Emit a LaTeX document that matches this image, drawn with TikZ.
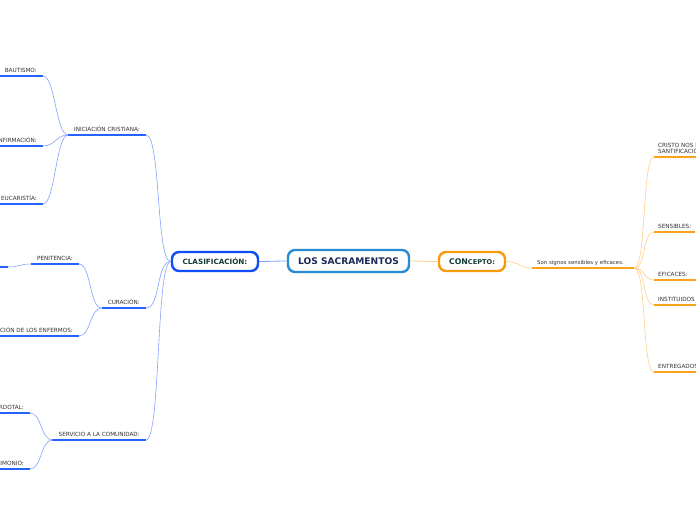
\documentclass[tikz,border=0pt]{standalone}
\usepackage{fontspec}
\setmainfont{DejaVu Sans}
\definecolor{bcurve}{HTML}{85A2FF}
\definecolor{bline}{HTML}{2563FF}
\definecolor{ocurve}{HTML}{FFCF8A}
\definecolor{oline}{HTML}{F9A21C}
\definecolor{sacb}{HTML}{2A8BD2}
\definecolor{clasb}{HTML}{0F4EF5}
\definecolor{conb}{HTML}{F8990E}
\definecolor{navy}{HTML}{1B2A55}
\definecolor{dgreen}{HTML}{143A33}
\definecolor{txt}{HTML}{333333}
\tikzset{
  lbl/.style={font=\fontsize{5.7}{6.6}\selectfont, text=txt, inner xsep=6pt, inner ysep=3pt, text depth=0pt, align=left},
  bcv/.style={draw=bcurve, line width=0.6pt},
  bul/.style={draw=bline, line width=1.8pt},
  ocv/.style={draw=ocurve, line width=0.6pt},
  oul/.style={draw=oline, line width=1.8pt},
  mainbox/.style={rounded corners=7pt, line width=2.4pt, fill=white, inner sep=0pt}
}
\begin{document}
\begin{tikzpicture}[x=1pt,y=-1pt]
\useasboundingbox (0,0) rectangle (696,520);
\clip (0,0) rectangle (696,520);
\fill[white] (0,0) rectangle (696,520);

% main nodes
\node[mainbox, draw=sacb, minimum width=121, minimum height=22, font=\bfseries\fontsize{9.1}{10}\selectfont, text=navy] (sac) at (348.5,261) {LOS SACRAMENTOS};
\node[mainbox, draw=clasb, minimum width=86, minimum height=19, font=\bfseries\fontsize{7.2}{8}\selectfont, text=dgreen] (clas) at (215,261.5) {CLASIFICACIÓN:};
\node[mainbox, draw=conb, minimum width=66, minimum height=19, font=\bfseries, text=dgreen] (con) at (472,261.5) {{\fontsize{7.8}{8}\selectfont CON}{\fontsize{6.6}{8}\selectfont CEPTO:}};

\draw[draw=bcurve, line width=0.8pt] (sac.west) .. controls +(-10,0) and +(10,0) .. (clas.east);
\draw[draw=ocurve, line width=0.8pt] (sac.east) .. controls +(10,0) and +(-10,0) .. (con.west);

% left level 1
\node[lbl, anchor=south east] (ini) at (146,135) {INICIACIÓN CRISTIANA:};
\node[lbl, anchor=south east] (cur) at (146,308) {CURACIÓN:};
\node[lbl, anchor=south east] (ser) at (146,440) {SERVICIO A LA COMUNIDAD:};
% left level 2
\node[lbl, anchor=south east] (bau) at (43,76) {BAUTISMO:};
\node[lbl, anchor=south east] (conf) at (43,146) {CONFIRMACIÓN:};
\node[lbl, anchor=south east] (euc) at (43,204) {EUCARISTÍA:};
\node[lbl, anchor=south east] (pen) at (79,264) {PENITENCIA:};
\node[lbl, anchor=south east] (unc) at (79,336) {UNCIÓN DE LOS ENFERMOS:};
\node[lbl, anchor=south east] (ord) at (30,413) {ORDEN SACERDOTAL:};
\node[lbl, anchor=south east] (mat) at (30,469) {MATRIMONIO:};
\coordinate (pcA) at (-30,267);
\coordinate (pcB) at (8,267);

% underlines
\foreach \n in {ini,cur,ser,bau,conf,euc,pen,unc,ord,mat}
  \draw[bul] (\n.south west) -- (\n.south east);
\draw[bul] (pcA) -- (pcB);

% blue connectors
\foreach \n in {ini,cur,ser}
  \draw[bcv] (clas.west) .. controls +(-15,0) and +(15,0) .. (\n.south east);
\foreach \n in {bau,conf,euc}
  \draw[bcv] (ini.south west) .. controls +(-12,0) and +(12,0) .. (\n.south east);
\foreach \n in {pen,unc}
  \draw[bcv] (cur.south west) .. controls +(-12,0) and +(12,0) .. (\n.south east);
\foreach \n in {ord,mat}
  \draw[bcv] (ser.south west) .. controls +(-12,0) and +(12,0) .. (\n.south east);
\draw[bcv] (pen.south west) .. controls +(-12,0) and +(12,0) .. (pcB);

% right side
\node[lbl, anchor=south west, inner xsep=5pt, text width=92pt, align=left, font=\fontsize{5.4}{6.4}\selectfont] (son) at (532,268) {Son signos sensibles y eficaces.};
\node[lbl, anchor=south west, inner xsep=4pt, align=left] (cri) at (654,157) {CRISTO NOS DA LA\\SANTIFICACIÓN:};
\node[lbl, anchor=south west, inner xsep=4pt] (sen) at (654,232) {SENSIBLES:};
\node[lbl, anchor=south west, inner xsep=4pt, text width=36pt, align=left] (efi) at (654,280) {EFICACES:};
\node[lbl, anchor=south west, inner xsep=4pt] (ins) at (654,305) {INSTITUIDOS POR CRISTO:};
\node[lbl, anchor=south west, inner xsep=4pt] (ent) at (654,372) {ENTREGADOS A LA IGLESIA:};

\foreach \n in {son,cri,sen,efi,ins,ent}
  \draw[oul] (\n.south west) -- (\n.south east);
\draw[ocv] (con.east) .. controls +(12,0) and +(-12,0) .. (son.south west);
\foreach \n in {cri,sen,efi,ins,ent}
  \draw[ocv] (son.south east) .. controls +(12,0) and +(-12,0) .. (\n.south west);
\end{tikzpicture}
\end{document}
